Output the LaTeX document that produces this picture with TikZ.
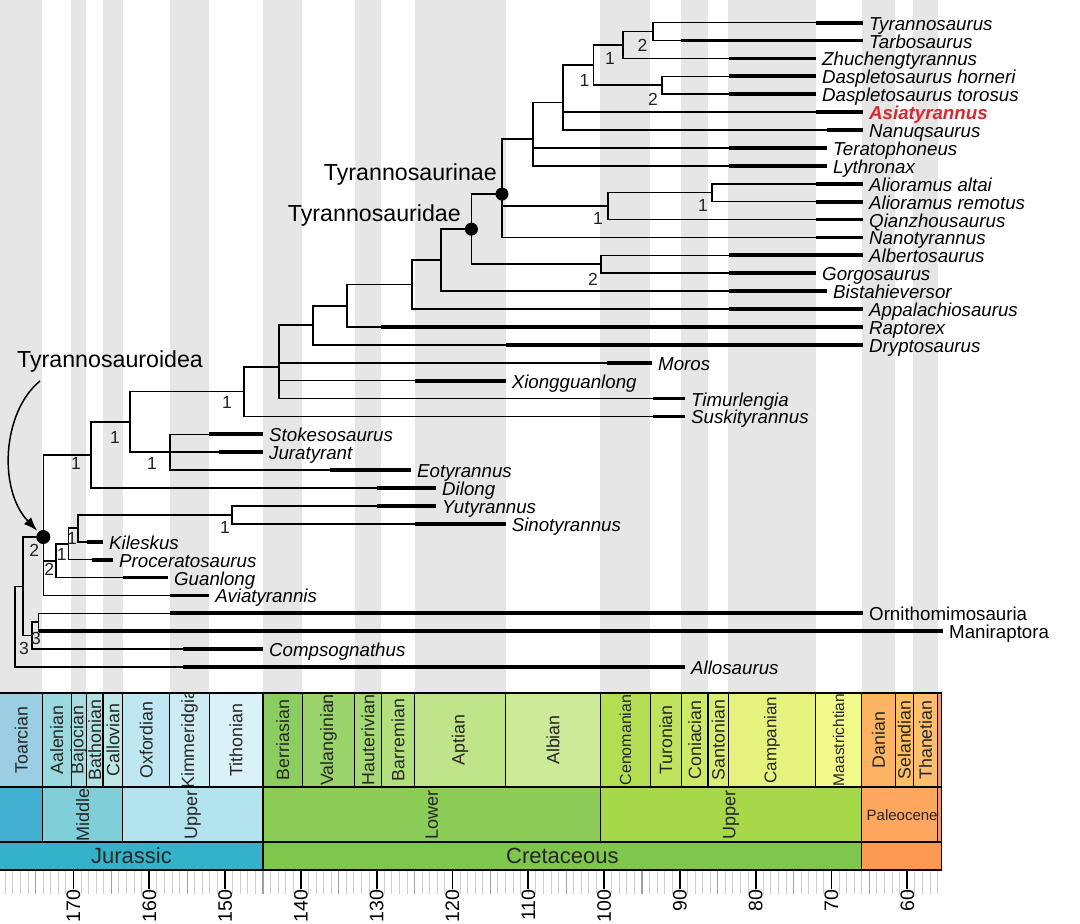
\documentclass[tikz,border=0pt]{standalone}
\usepackage{fontspec}
\setmainfont{Liberation Sans}
\usetikzlibrary{arrows.meta}
\definecolor{stripegray}{HTML}{E6E6E6}
\definecolor{asiared}{HTML}{D42A2F}
\definecolor{tstext}{HTML}{262626}
\definecolor{supgray}{HTML}{222222}
\tikzset{
  branch/.style={line width=1.6pt, line join=miter},
  bar/.style={line width=3.8pt},
  taxon/.style={font=\fontsize{18.7}{18.7}\selectfont\itshape, inner sep=0pt},
  taxonup/.style={font=\fontsize{18.7}{18.7}\selectfont, inner sep=0pt},
  taxonred/.style={font=\fontsize{18.7}{18.7}\selectfont\bfseries\itshape, text=asiared, inner sep=0pt},
  supp/.style={font=\fontsize{17.5}{17.5}\selectfont, text=supgray, inner sep=0pt},
  clade/.style={font=\fontsize{23.2}{23.2}\selectfont, inner sep=0pt},
  dot/.style={circle, fill=black, inner sep=0pt, minimum size=13pt},
  bigdot/.style={circle, fill=black, inner sep=0pt, minimum size=14pt},
  tsb/.style={draw=black, line width=1.2pt},
  tslabel/.style={rotate=90, text=tstext, inner sep=0pt},
}
\newcommand{\mktaxon}[6]{%
  \coordinate (#1) at (#3,#2);
  \draw[bar] (#4,#2) -- (#1);
  \node[#6, anchor=base west] (l#1) at (#3+6,#2+7.5) {#5};}
\newcommand{\brn}[2]{\draw[branch] (#1) |- (#2);}
\begin{document}
\begin{tikzpicture}[x=1pt,y=-1pt]
\fill[white] (0,0) rectangle (1080,924);
\useasboundingbox (0,0) rectangle (1080,924);
% stripes
\foreach \ta/\tb in {182.7/174.1,170.3/168.3,166.1/163.5,157.3/152.1,145/139.8,132.9/129.4,125/113,100.5/93.9,89.8/86.3,83.6/72.1,66/61.6,59.2/56}{
  \fill[stripegray] ({263+(145-\ta)*7.58},0) rectangle ({263+(145-\tb)*7.58},693);
}
% ---------------- taxa ----------------
\mktaxon{tTyr}{22.6}{863}{816}{Tyrannosaurus}{taxon}
\mktaxon{tTarbo}{40.5}{863}{681.4}{Tarbosaurus}{taxon}
\mktaxon{tZhu}{58.4}{816}{729}{Zhuchengtyrannus}{taxon}
\mktaxon{tDh}{76.3}{816}{729}{Daspletosaurus horneri}{taxon}
\mktaxon{tDt}{94.2}{816}{729}{Daspletosaurus torosus}{taxon}
\mktaxon{tAsia}{112.1}{863}{816}{Asiatyrannus}{taxonred}
\mktaxon{tNanuq}{130.0}{863}{827}{Nanuqsaurus}{taxon}
\mktaxon{tTerato}{147.9}{827}{729}{Teratophoneus}{taxon}
\mktaxon{tLythro}{165.8}{827}{729}{Lythronax}{taxon}
\mktaxon{tAa}{183.7}{863}{816}{Alioramus altai}{taxon}
\mktaxon{tAr}{201.6}{863}{816}{Alioramus remotus}{taxon}
\mktaxon{tQian}{219.5}{863}{816}{Qianzhousaurus}{taxon}
\mktaxon{tNanot}{237.4}{863}{816}{Nanotyrannus}{taxon}
\mktaxon{tAlbert}{255.3}{863}{729}{Albertosaurus}{taxon}
\mktaxon{tGorgo}{273.2}{816}{729}{Gorgosaurus}{taxon}
\mktaxon{tBista}{291.1}{827}{729}{Bistahieversor}{taxon}
\mktaxon{tAppal}{309.0}{863}{729}{Appalachiosaurus}{taxon}
\mktaxon{tRapt}{326.9}{863}{381.2}{Raptorex}{taxon}
\mktaxon{tDrypt}{344.8}{863}{505.6}{Dryptosaurus}{taxon}
\mktaxon{tMoros}{362.7}{652}{607}{Moros}{taxon}
\mktaxon{tXiong}{380.6}{505.6}{414.6}{Xiongguanlong}{taxon}
\mktaxon{tTimur}{398.5}{685}{653}{Timurlengia}{taxon}
\mktaxon{tSusk}{416.4}{685}{653}{Suskityrannus}{taxon}
\mktaxon{tStokes}{434.3}{263}{209.2}{Stokesosaurus}{taxon}
\mktaxon{tJura}{452.2}{263}{219}{Juratyrant}{taxon}
\mktaxon{tEoty}{470.1}{411}{330}{Eotyrannus}{taxon}
\mktaxon{tDilong}{488.0}{436}{377}{Dilong}{taxon}
\mktaxon{tYuty}{505.9}{436}{377}{Yutyrannus}{taxon}
\mktaxon{tSino}{523.8}{505.6}{414.6}{Sinotyrannus}{taxon}
\mktaxon{tKile}{541.7}{103}{87}{Kileskus}{taxon}
\mktaxon{tProc}{559.6}{113}{92}{Proceratosaurus}{taxon}
\mktaxon{tGuan}{577.5}{168}{123.2}{Guanlong}{taxon}
\mktaxon{tAvia}{595.4}{209.2}{169.8}{Aviatyrannis}{taxon}
\mktaxon{tOrni}{613.3}{863}{169.8}{Ornithomimosauria}{taxonup}
\mktaxon{tMani}{631.2}{943}{38.5}{Maniraptora}{taxonup}
\mktaxon{tComp}{649.1}{263}{183}{Compsognathus}{taxon}
\mktaxon{tAllo}{667.0}{685}{183}{Allosaurus}{taxon}
% ---------------- internal nodes ----------------
\coordinate (nA) at (653,31.55);
\coordinate (nB) at (623,44.98);
\coordinate (nC) at (662,85.25);
\coordinate (nD) at (593.6,65.11);
\coordinate (nE) at (563,102.4);
\coordinate (nF) at (533,138.7);
\coordinate (nH) at (712,192.65);
\coordinate (nI) at (608,206.1);
\coordinate (nG) at (502,194.07);
\coordinate (nJ) at (601,264.25);
\coordinate (nK) at (471.4,229.16);
\coordinate (nL) at (441,260.13);
\coordinate (nM) at (412,284.57);
\coordinate (nN) at (347,305.73);
\coordinate (nO) at (313,325.27);
\coordinate (nP) at (279,366.77);
\coordinate (nQ) at (244,391.58);
\coordinate (nR) at (170,452.2);
\coordinate (nS) at (130,421.89);
\coordinate (nT) at (90.7,454.95);
\coordinate (nU) at (231.7,514.85);
\coordinate (nV) at (77.7,528.28);
\coordinate (nW) at (68.3,543.94);
\coordinate (nX) at (56,560.72);
\coordinate (nY) at (43.3,537.02);
\coordinate (nZa) at (38.5,622.25);
\coordinate (nZb) at (31.7,635.68);
\coordinate (nZc) at (22.7,586.35);
\coordinate (nZd) at (15,626.68);
% ---------------- branches ----------------
\brn{nA}{tTyr}\brn{nA}{tTarbo}
\brn{nB}{nA}\brn{nB}{tZhu}
\brn{nC}{tDh}\brn{nC}{tDt}
\brn{nD}{nB}\brn{nD}{nC}
\brn{nE}{nD}\brn{nE}{tAsia}\brn{nE}{tNanuq}
\brn{nF}{nE}\brn{nF}{tTerato}\brn{nF}{tLythro}
\brn{nH}{tAa}\brn{nH}{tAr}
\brn{nI}{nH}\brn{nI}{tQian}
\brn{nG}{nF}\brn{nG}{nI}\brn{nG}{tNanot}
\brn{nJ}{tAlbert}\brn{nJ}{tGorgo}
\brn{nK}{nG}\brn{nK}{nJ}
\brn{nL}{nK}\brn{nL}{tBista}
\brn{nM}{nL}\brn{nM}{tAppal}
\brn{nN}{nM}\brn{nN}{tRapt}
\brn{nO}{nN}\brn{nO}{tDrypt}
\brn{nP}{nO}\brn{nP}{tMoros}\brn{nP}{tXiong}\brn{nP}{tTimur}
\brn{nQ}{nP}\brn{nQ}{tSusk}
\brn{nR}{tStokes}\draw[branch] (nR) -- (tJura);\brn{nR}{tEoty}
\brn{nS}{nQ}\brn{nS}{nR}
\brn{nT}{nS}\brn{nT}{tDilong}
\brn{nU}{tYuty}\brn{nU}{tSino}
\brn{nV}{nU}\brn{nV}{tKile}
\brn{nW}{nV}\brn{nW}{tProc}
\brn{nX}{nW}\brn{nX}{tGuan}
\brn{nY}{nT}\brn{nY}{nX}\brn{nY}{tAvia}
\brn{nZa}{tOrni}\brn{nZa}{tMani}
\brn{nZb}{nZa}\brn{nZb}{tComp}
\brn{nZc}{nY}\brn{nZc}{nZb}
\brn{nZd}{nZc}\brn{nZd}{tAllo}
% ---------------- support values ----------------
\node[supp] (sA) at (642.5,45) {2};
\node[supp] (sB) at (610,58) {1};
\node[supp] (sC) at (653,99) {2};
\node[supp] (sD) at (584.6,80) {1};
\node[supp] (sH) at (703,205) {1};
\node[supp] (sI) at (598,218) {1};
\node[supp] (sJ) at (593,279) {2};
\node[supp] (sQ) at (227,402) {1};
\node[supp] (sR) at (152,463) {1};
\node[supp] (sS) at (115,437) {1};
\node[supp] (sT) at (76,463) {1};
\node[supp] (sU) at (225,527) {1};
\node[supp] (sV) at (72,538) {1};
\node[supp] (sW) at (61.7,554) {1};
\node[supp] (sX) at (49.3,569) {2};
\node[supp] (sY) at (34.3,550) {2};
\node[supp] (sZa) at (36,638) {3};
\node[supp] (sZb) at (24,648) {3};
% ---------------- clade dots and labels ----------------
\node[dot] (dG) at (nG) {};
\node[dot] (dK) at (nK) {};
\node[bigdot] (dY) at (nY) {};
\node[clade, anchor=base east] (cTyrinae) at (497,180) {Tyrannosaurinae};
\node[clade, anchor=base east] (cTyridae) at (461,221) {Tyrannosauridae};
\node[clade, anchor=base west] (cTyroid) at (17,367) {Tyrannosauroidea};
\coordinate (astart) at (40,381);
\draw[line width=1.5pt, -{Latex[length=14pt,width=10pt]}, shorten >=1.5pt] (astart) .. controls (2,412) and (-2,490) .. (dY);
% ---------------- time scale ----------------
\foreach \nm/\ta/\tb/\cl/\fs in {Toarcian/182.7/174.1/99CEE3/17.8,Aalenian/174.1/170.3/9AD9DD/17.8,Bajocian/170.3/168.3/A6DDE0/17.8,Bathonian/168.3/166.1/B3E2E3/17.8,Callovian/166.1/163.5/BFE7E5/17.8,Oxfordian/163.5/157.3/BFE7F1/17.8,Tithonian/152.1/145/D9F1F7/17.8,Berriasian/145/139.8/8CCD60/17.8,Valanginian/139.8/132.9/99D36A/17.8,Hauterivian/132.9/129.4/A6D975/17.8,Barremian/129.4/125/B3DF7F/17.8,Aptian/125/113/BFE48A/17.8,Albian/113/100.5/CCEA97/17.8,Cenomanian/100.5/93.9/B3DE53/16,Turonian/93.9/89.8/BFE35D/17.8,Coniacian/89.8/86.3/CCE968/17.8,Santonian/86.3/83.6/D9EF74/17.8,Campanian/83.6/72.1/E6F47F/17,Maastrichtian/72.1/66/F2FA8C/15.5,Danian/66/61.6/FDB462/17.8,Selandian/61.6/59.2/FEBF65/17.8,Thanetian/59.2/56/FDBF6F/17.8}{
  \pgfmathsetmacro\xa{max(-5,263+(145-\ta)*7.58)}
  \pgfmathsetmacro\xl{max(0,263+(145-\ta)*7.58)}
  \pgfmathsetmacro\xb{263+(145-\tb)*7.58}
  \definecolor{cc}{HTML}{\cl}
  \filldraw[fill=cc, tsb] (\xa,693) rectangle (\xb,787);
  \node[tslabel, font=\fontsize{\fs}{\fs}\selectfont] at ({(\xl+\xb)/2},740) {\nm};
}
% Kimmeridgian (label clipped)
\definecolor{kimc}{HTML}{CCECF4}
\filldraw[fill=kimc, tsb] (169.8,693) rectangle (209.2,787);
\begin{scope}
  \clip (169.8,693.6) rectangle (209.2,800);
  \node[tslabel, font=\fontsize{17.8}{17.8}\selectfont, anchor=west] (kimlab) at (189.5,789) {Kimmeridgian};
\end{scope}
% thin Ypresian sliver
\definecolor{ypc}{HTML}{E89A7E}
\filldraw[fill=ypc, tsb] (937.6,693) rectangle (941.4,787);
% epochs
\foreach \nm/\ta/\tb/\cl in {{}/182.7/174.1/42AED0,Middle/174.1/163.5/80CFD8,Upper/163.5/145/B3E3EE,Lower/145/100.5/8CCD57,Upper/100.5/66/A6D84A}{
  \pgfmathsetmacro\xa{max(-5,263+(145-\ta)*7.58)}
  \pgfmathsetmacro\xb{263+(145-\tb)*7.58}
  \definecolor{cc}{HTML}{\cl}
  \filldraw[fill=cc, tsb] (\xa,787) rectangle (\xb,842);
  \node[tslabel, font=\fontsize{18}{18}\selectfont] at ({(\xa+\xb)/2},815) {\nm};
}
\definecolor{paleoc}{HTML}{FDA75F}
\filldraw[fill=paleoc, tsb] (861.8,787) rectangle (937.6,842);
\filldraw[fill=ypc, tsb] (937.6,787) rectangle (941.4,842);
\begin{scope}
  \clip (861.8,787) rectangle (937.6,842);
  \node[font=\fontsize{15}{15}\selectfont, text=tstext, inner sep=0pt, anchor=west] (paleolab) at (866.5,815) {Paleocene};
\end{scope}
% periods
\definecolor{jurc}{HTML}{34B2C9}
\definecolor{crec}{HTML}{7FC64E}
\definecolor{pgc}{HTML}{FD9A52}
\filldraw[fill=jurc, tsb] (-5,842) rectangle (263,870);
\filldraw[fill=crec, tsb] (263,842) rectangle (861.8,870);
\filldraw[fill=pgc, tsb] (861.8,842) rectangle (941.4,870);
\node[font=\fontsize{22}{22}\selectfont, text=tstext, inner sep=0pt] (jurlab) at (131.5,856) {Jurassic};
\node[font=\fontsize{22}{22}\selectfont, text=tstext, inner sep=0pt] (crelab) at (562.4,856) {Cretaceous};
% ticks
\foreach \t in {56,...,180}{
  \draw[line width=1pt, draw={rgb,255:red,205;green,205;blue,205}] ({263+(145-\t)*7.58},871) -- ++(0,23);
}
\foreach \t in {65,75,...,175}{
  \draw[line width=1.1pt, draw={rgb,255:red,160;green,160;blue,160}] ({263+(145-\t)*7.58},871) -- ++(0,23);
}
\foreach \t in {60,70,...,170}{
  \draw[line width=1.8pt, draw=black] ({263+(145-\t)*7.58},870) -- ++(0,19);
  \node[rotate=90, anchor=east, inner sep=0pt, font=\fontsize{19.5}{19.5}\selectfont] (tick\t) at ({263+(145-\t)*7.58},889.5) {\t};
}
\end{tikzpicture}
\end{document}
